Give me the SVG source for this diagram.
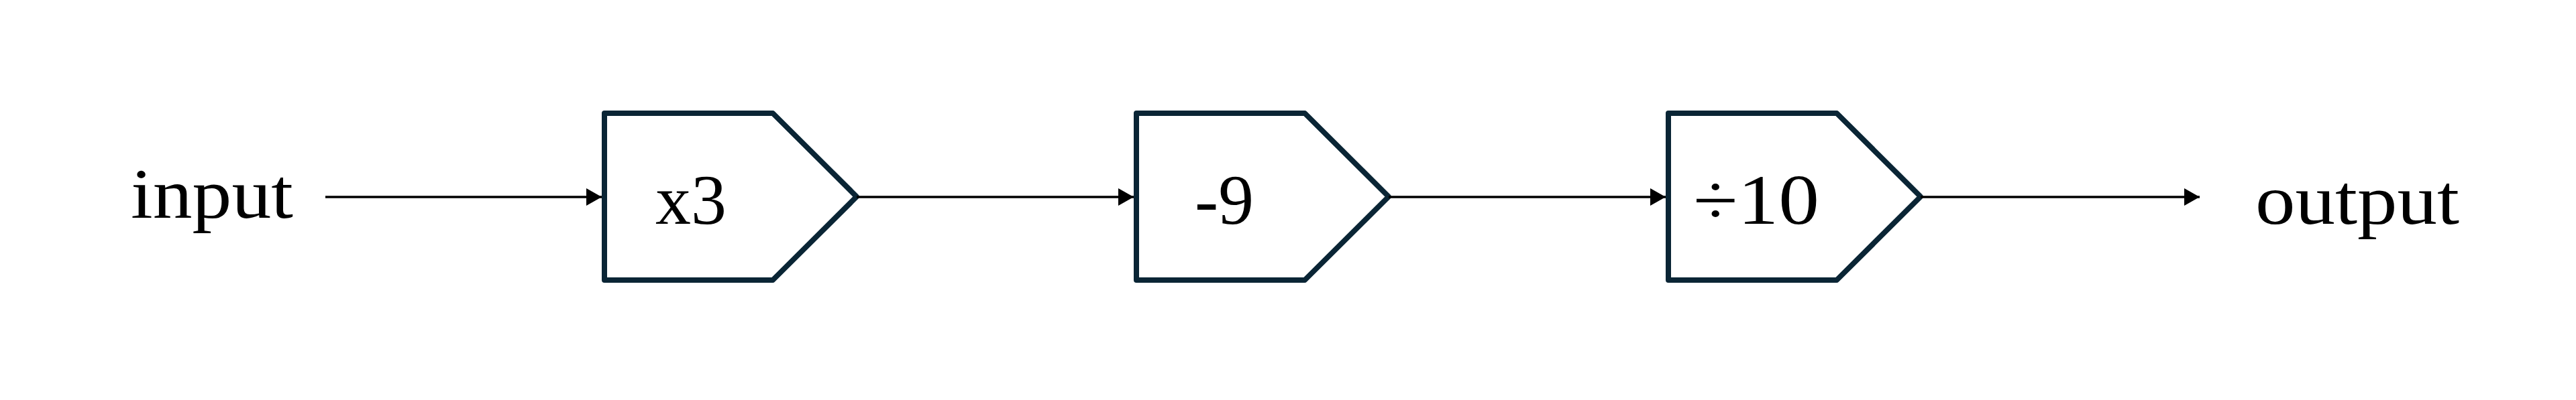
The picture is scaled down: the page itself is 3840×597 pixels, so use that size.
<svg xmlns="http://www.w3.org/2000/svg" width="3840" height="597" viewBox="0 0 3840 597">
  <style>
    .box { fill: #ffffff; stroke: #0a2535; stroke-width: 8; stroke-linejoin: round; }
    .conn { stroke: #000000; stroke-width: 3.5; fill: none; }
    .lbl { font-family: "Liberation Serif", "DejaVu Serif", serif; font-size: 106px; fill: #000000; }
  </style>
  <defs>
    <marker id="arrow" markerUnits="userSpaceOnUse" markerWidth="24" markerHeight="26" refX="23" refY="13" orient="auto">
      <path d="M0,0 L23,13 L0,26 Z" fill="#000000"/>
    </marker>
  </defs>
  <rect width="3840" height="597" fill="#ffffff"/>
  <g id="input">
    <text class="lbl" x="195" y="325" textLength="242" lengthAdjust="spacingAndGlyphs">input</text>
  </g>
  <g id="node-x3">
    <path class="box" d="M901,169 L1152,169 L1277,293.5 L1152,418 L901,418 Z"/>
    <text class="lbl" x="977" y="334" textLength="106" lengthAdjust="spacingAndGlyphs">x3</text>
  </g>
  <g id="node-minus9">
    <path class="box" d="M1694,169 L1945,169 L2070,293.5 L1945,418 L1694,418 Z"/>
    <text class="lbl" x="1781" y="334" textLength="88" lengthAdjust="spacingAndGlyphs">-9</text>
  </g>
  <g id="node-div10">
    <path class="box" d="M2487,169 L2738,169 L2863,293.5 L2738,418 L2487,418 Z"/>
    <text class="lbl" x="2524" y="334" textLength="188" lengthAdjust="spacingAndGlyphs">÷10</text>
  </g>
  <g id="output">
    <text class="lbl" x="3362" y="334" textLength="304" lengthAdjust="spacingAndGlyphs">output</text>
  </g>
  <g id="connectors">
    <line class="conn" x1="485" y1="294" x2="897" y2="294" marker-end="url(#arrow)"/>
    <line class="conn" x1="1277" y1="294" x2="1690" y2="294" marker-end="url(#arrow)"/>
    <line class="conn" x1="2070" y1="294" x2="2483" y2="294" marker-end="url(#arrow)"/>
    <line class="conn" x1="2863" y1="294" x2="3279" y2="294" marker-end="url(#arrow)"/>
  </g>
</svg>
